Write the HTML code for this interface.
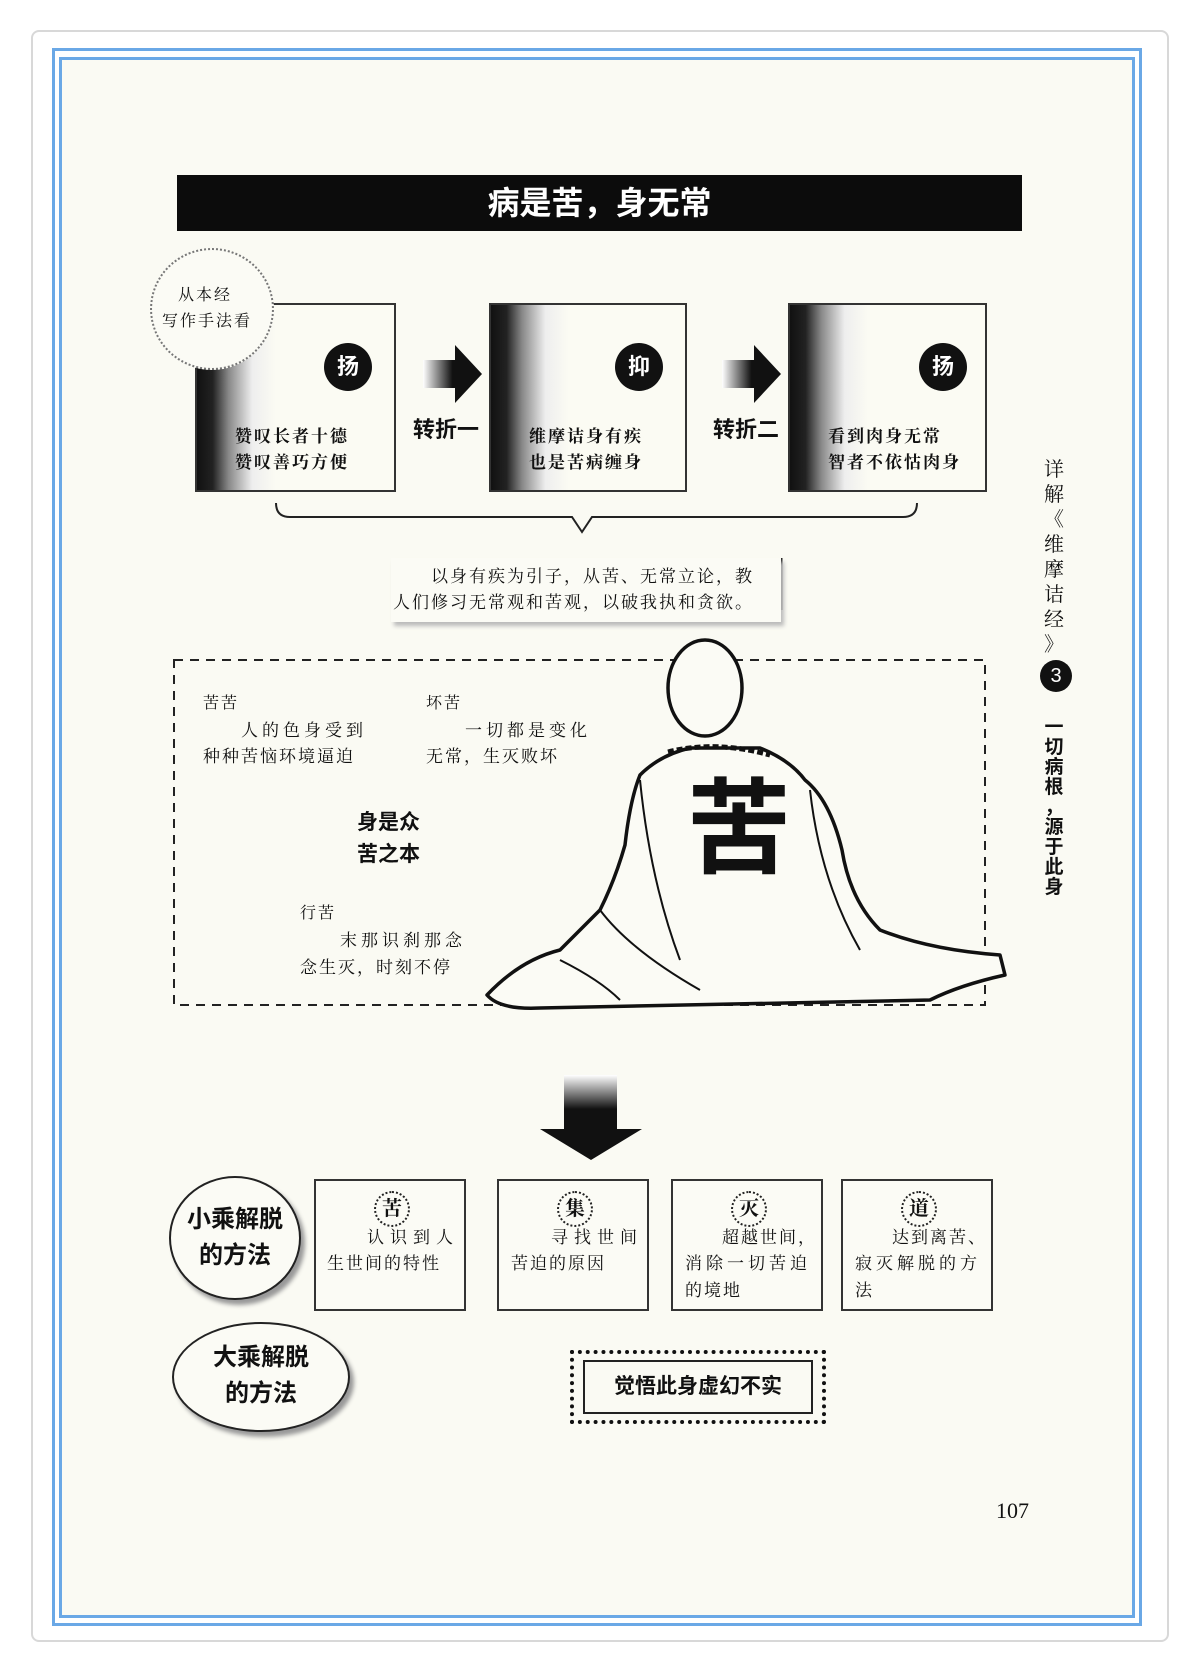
<!DOCTYPE html>
<html><head><meta charset="utf-8"><style>
body{margin:0;width:1188px;height:1665px;background:#fff;position:relative;overflow:hidden;font-family:"Liberation Serif","Noto Serif CJK SC",serif;color:#111}
.a{position:absolute}
.card{left:31px;top:30px;width:1134px;height:1608px;border:2px solid #d8d8d8;border-radius:8px;background:#fff}
.frame{left:52px;top:48px;width:1090px;height:1578px;border:3px solid #6aa8e6;box-sizing:border-box}
.frame2{left:59px;top:57px;width:1076px;height:1561px;border:3px solid #6aa8e6;box-sizing:border-box;background:#fafaf3}
.sans{font-family:"Liberation Sans","Noto Sans CJK SC",sans-serif}
.bx{border:2px solid #333;box-sizing:border-box;background:linear-gradient(90deg,#111 0%,#222 8%,#888 16%,#eee 28%,#fbfbf3 40%)}
.dot{border-radius:50%;background:#111;color:#fff;text-align:center;font-weight:bold}
.t{font-size:17px;letter-spacing:2px;white-space:nowrap}
.b4{border:2px solid #333;box-sizing:border-box;background:#fbfbf5}
.hc{border:2px dotted #222;border-radius:50%;width:32px;height:32px;text-align:center;line-height:32px;font-weight:bold;font-size:20px;position:absolute;top:10px}
.ell{border:2px solid #222;border-radius:50%;box-sizing:border-box;text-align:center;font-weight:bold;font-size:24px;line-height:36px;box-shadow:4px 5px 4px #999;background:#fbfbf5}
</style></head><body>
<div class="a card"></div>
<div class="a frame"></div>
<div class="a frame2"></div>

<!-- title -->
<div class="a" style="left:177px;top:175px;width:845px;height:56px;background:#0c0c0c"></div>
<div class="a sans" style="left:177px;top:175px;width:845px;height:56px;line-height:56px;text-align:center;color:#fff;font-weight:bold;font-size:32px">病是苦，身无常</div>

<!-- boxes -->
<div class="a bx" style="left:195px;top:303px;width:201px;height:189px"></div>
<div class="a bx" style="left:489px;top:303px;width:198px;height:189px"></div>
<div class="a bx" style="left:788px;top:303px;width:199px;height:189px"></div>
<div class="a" style="left:150px;top:248px;width:120px;height:118px;border:2px dotted #777;border-radius:50%;background:#fbfbf5"></div>
<div class="a t" style="left:178px;top:282px;font-size:16px">从本经</div>
<div class="a t" style="left:162px;top:308px;font-size:16px">写作手法看</div>
<div class="a dot sans" style="left:324px;top:343px;width:48px;height:48px;line-height:48px;font-size:22px">扬</div>
<div class="a dot sans" style="left:615px;top:343px;width:48px;height:48px;line-height:48px;font-size:22px">抑</div>
<div class="a dot sans" style="left:919px;top:343px;width:48px;height:48px;line-height:48px;font-size:22px">扬</div>
<div class="a t" style="left:235px;top:422px;font-weight:bold">赞叹长者十德</div>
<div class="a t" style="left:235px;top:448px;font-weight:bold">赞叹善巧方便</div>
<div class="a t" style="left:529px;top:422px;font-weight:bold">维摩诘身有疾</div>
<div class="a t" style="left:529px;top:448px;font-weight:bold">也是苦病缠身</div>
<div class="a t" style="left:828px;top:422px;font-weight:bold">看到肉身无常</div>
<div class="a t" style="left:828px;top:448px;font-weight:bold">智者不依怙肉身</div>
<div class="a sans" style="left:413px;top:412px;font-size:22px;font-weight:bold">转折一</div>
<div class="a sans" style="left:713px;top:412px;font-size:22px;font-weight:bold">转折二</div>
<svg class="a" style="left:0;top:0" width="1188" height="1665">
<defs><linearGradient id="g" x1="0" x2="1"><stop offset="0" stop-color="#fff"/><stop offset=".5" stop-color="#111"/></linearGradient>
<linearGradient id="gv" y1="0" y2="1" x1="0" x2="0"><stop offset="0" stop-color="#fff"/><stop offset=".4" stop-color="#111"/></linearGradient></defs>
<polygon points="423,360 455,360 455,345 482,374 455,403 455,388 423,388" fill="url(#g)"/>
<polygon points="722,360 754,360 754,345 781,374 754,403 754,388 722,388" fill="url(#g)"/>
<path d="M276,503 Q276,517 290,517 L572,517 L582,532 L592,517 L903,517 Q917,517 917,503" fill="none" stroke="#222" stroke-width="2"/>
<line x1="781" y1="558" x2="781" y2="610" stroke="#222" stroke-width="3"/>
<rect x="174" y="660" width="811" height="345" fill="none" stroke="#222" stroke-width="2" stroke-dasharray="9,7"/>
<!-- monk -->
<g fill="#fbfbf5" stroke="#111" stroke-width="3.5" stroke-linejoin="round">
<path d="M487,995 Q520,960 560,950 Q590,920 600,910 Q615,880 625,845 Q630,800 640,775 Q660,755 690,748 L760,748 Q790,760 805,780 Q830,800 842,850 Q850,900 880,930 Q930,950 1000,955 L1005,975 Q960,985 930,1000 L540,1008 Q500,1010 487,995 Z"/>
<ellipse cx="705" cy="688" rx="37" ry="48"/>
<path d="M668,752 Q715,740 770,755" fill="none" stroke-width="5" stroke-dasharray="6,3"/>
<path d="M640,780 Q650,880 680,960 M810,790 Q820,880 860,950 M600,910 Q630,950 700,990 M560,960 Q600,980 620,1000" fill="none" stroke-width="2"/>
</g>
<polygon points="541,1075 617,1075 617,1129 642,1129 591,1160 540,1129 564,1129 564,1075" fill="url(#gv)"/>
</svg>
<div class="a sans" style="left:687px;top:775px;font-size:104px;font-weight:bold;line-height:110px">苦</div>

<div class="a" style="left:391px;top:558px;width:390px;height:64px;box-shadow:3px 4px 4px #bbb;background:#fbfbf5"></div>
<div class="a t" style="left:431px;top:562px">以身有疾为引子，从苦、无常立论，教</div>
<div class="a t" style="left:393px;top:588px">人们修习无常观和苦观，以破我执和贪欲。</div>

<div class="a t" style="left:203px;top:690px;font-size:16px">苦苦</div>
<div class="a t" style="left:241px;top:716px;letter-spacing:4px">人的色身受到</div>
<div class="a t" style="left:203px;top:742px">种种苦恼环境逼迫</div>
<div class="a t" style="left:426px;top:690px;font-size:16px">坏苦</div>
<div class="a t" style="left:465px;top:716px;letter-spacing:4px">一切都是变化</div>
<div class="a t" style="left:426px;top:742px">无常，生灭败坏</div>
<div class="a sans" style="left:357px;top:806px;font-size:21px;font-weight:bold">身是众</div>
<div class="a sans" style="left:357px;top:838px;font-size:21px;font-weight:bold">苦之本</div>
<div class="a t" style="left:300px;top:900px;font-size:16px">行苦</div>
<div class="a t" style="left:340px;top:926px;letter-spacing:4px">末那识刹那念</div>
<div class="a t" style="left:300px;top:953px">念生灭，时刻不停</div>

<!-- sidebar -->
<div class="a" style="left:1043px;top:458px;width:22px;font-size:20px;line-height:25px;text-align:center">详<br>解<br>《<br>维<br>摩<br>诘<br>经<br>》</div>
<div class="a dot sans" style="left:1040px;top:660px;width:32px;height:32px;line-height:32px;font-size:20px;font-weight:normal">3</div>
<div class="a sans" style="left:1043px;top:718px;width:22px;font-size:19px;line-height:20px;text-align:center;font-weight:bold">一<br>切<br>病<br>根<br>，<br>源<br>于<br>此<br>身</div>

<!-- lower -->
<div class="a ell sans" style="left:169px;top:1176px;width:132px;height:124px;padding-top:24px">小乘解脱<br>的方法</div>
<div class="a ell sans" style="left:172px;top:1322px;width:178px;height:110px;padding-top:16px">大乘解脱<br>的方法</div>
<div class="a b4" style="left:314px;top:1179px;width:152px;height:132px"><div class="hc" style="left:58px">苦</div></div>
<div class="a b4" style="left:497px;top:1179px;width:152px;height:132px"><div class="hc" style="left:58px">集</div></div>
<div class="a b4" style="left:671px;top:1179px;width:152px;height:132px"><div class="hc" style="left:58px">灭</div></div>
<div class="a b4" style="left:841px;top:1179px;width:152px;height:132px"><div class="hc" style="left:58px">道</div></div>
<div class="a t" style="left:367px;top:1223px;letter-spacing:6px">认识到人</div>
<div class="a t" style="left:327px;top:1249px">生世间的特性</div>
<div class="a t" style="left:551px;top:1223px;letter-spacing:6px">寻找世间</div>
<div class="a t" style="left:511px;top:1249px">苦迫的原因</div>
<div class="a t" style="left:722px;top:1223px">超越世间，</div>
<div class="a t" style="left:685px;top:1249px;letter-spacing:4px">消除一切苦迫</div>
<div class="a t" style="left:685px;top:1276px">的境地</div>
<div class="a t" style="left:892px;top:1223px">达到离苦、</div>
<div class="a t" style="left:855px;top:1249px;letter-spacing:4px">寂灭解脱的方</div>
<div class="a t" style="left:855px;top:1276px">法</div>

<div class="a" style="left:570px;top:1350px;width:256px;height:74px;border:4px dotted #111;box-sizing:border-box"></div>
<div class="a sans" style="left:583px;top:1360px;width:230px;height:54px;border:2px solid #222;box-sizing:border-box;text-align:center;line-height:50px;font-size:21px;font-weight:bold">觉悟此身虚幻不实</div>

<div class="a" style="left:996px;top:1498px;font-size:22px">107</div>
</body></html>
